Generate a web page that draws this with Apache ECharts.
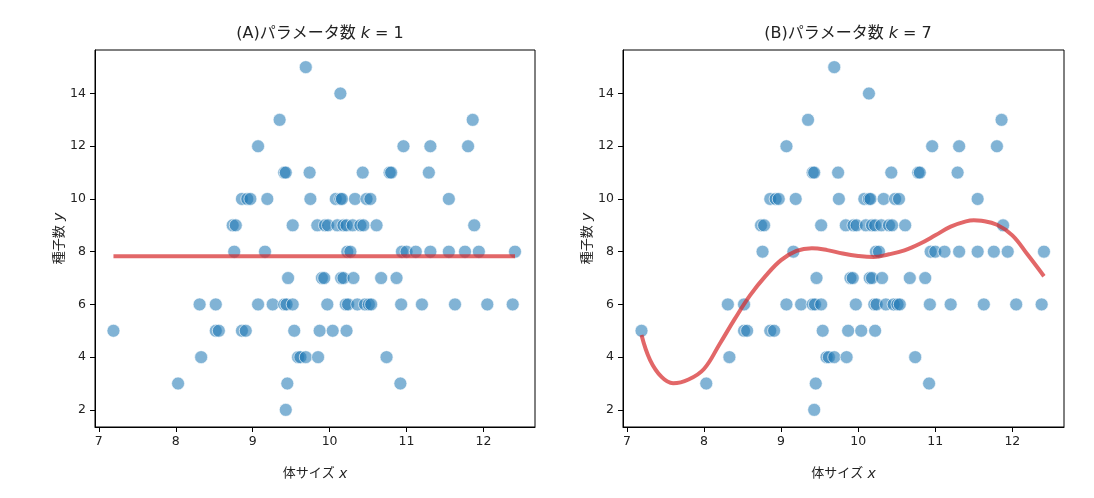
<!DOCTYPE html>
<html>
<head>
<meta charset="utf-8">
<title>パラメータ数</title>
<script src="https://cdn.jsdelivr.net/npm/echarts@6/dist/echarts.min.js"></script>
<style>
  html, body { margin: 0; padding: 0; background: #fff; }
  #main { width: 1094px; height: 498px; }
</style>
</head>
<body>
<div id="main"></div>
<script>
var bodySize = [
  9.43,
  8.03, 9.45, 10.92,
  8.33, 9.59, 9.62, 9.69, 9.85, 10.74,
  7.19, 8.52, 8.56, 8.86, 8.91, 9.54, 9.87, 10.04, 10.22,
  8.31, 8.52, 9.07, 9.26, 9.41, 9.44, 9.52, 9.97, 10.21, 10.24, 10.36, 10.46, 10.51, 10.54, 10.93, 11.20, 11.63, 12.05, 12.38,
  9.46, 9.90, 9.93, 10.15, 10.18, 10.31, 10.67, 10.87,
  8.76, 9.16, 10.23, 10.27, 10.94, 11.00, 11.12, 11.31, 11.55, 11.76, 11.94, 12.41,
  8.74, 8.78, 9.52, 9.84, 9.94, 9.98, 10.10, 10.18, 10.22, 10.30, 10.40, 10.44, 10.61, 11.88,
  8.86, 8.93, 8.97, 9.19, 9.75, 10.08, 10.14, 10.16, 10.33, 10.48, 10.53, 11.55,
  9.41, 9.43, 9.74, 10.43, 10.78, 10.80, 11.29,
  9.07, 10.96, 11.31, 11.80,
  9.35, 11.86,
  10.14,
  9.69
];
var seedCount = [
  2,
  3, 3, 3,
  4, 4, 4, 4, 4, 4,
  5, 5, 5, 5, 5, 5, 5, 5, 5,
  6, 6, 6, 6, 6, 6, 6, 6, 6, 6, 6, 6, 6, 6, 6, 6, 6, 6, 6,
  7, 7, 7, 7, 7, 7, 7, 7,
  8, 8, 8, 8, 8, 8, 8, 8, 8, 8, 8, 8,
  9, 9, 9, 9, 9, 9, 9, 9, 9, 9, 9, 9, 9, 9,
  10, 10, 10, 10, 10, 10, 10, 10, 10, 10, 10, 10,
  11, 11, 11, 11, 11, 11, 11,
  12, 12, 12, 12,
  13, 13,
  14,
  15
];

// (A) k=1 の予測 (平均)
var meanY = 7.83;

// (B) k=7 の予測曲線
var fitX = [7.19, 7.3, 7.45, 7.6, 7.8, 8.0, 8.2, 8.4, 8.6, 8.8, 9.0, 9.2, 9.4, 9.6, 9.8,
            10.0, 10.2, 10.4, 10.6, 10.8, 11.0, 11.2, 11.4, 11.5, 11.6, 11.8, 12.0, 12.2, 12.41];
var fitY = [4.84, 3.9, 3.25, 3.01, 3.15, 3.55, 4.48, 5.45, 6.35, 7.08, 7.68, 8.03, 8.13, 8.06, 7.93,
            7.84, 7.8, 7.9, 8.05, 8.3, 8.62, 8.95, 9.15, 9.19, 9.17, 9.02, 8.62, 7.88, 7.07];

var xTicks = [7, 8, 9, 10, 11, 12];
var yTicks = [2, 4, 6, 8, 10, 12, 14];

var pts = bodySize.map(function (x, i) { return [x, seedCount[i]]; });
var xMin = Math.min.apply(null, bodySize);
var xMax = Math.max.apply(null, bodySize);
var meanLine = [[xMin, meanY], [xMax, meanY]];
var fitLine = fitX.map(function (x, i) { return [x, fitY[i]]; });

var FONT = 'DejaVu Sans, Noto Sans CJK JP, sans-serif';
var chart = echarts.init(document.getElementById('main'), null, { renderer: 'canvas' });

function xAxisFor(idx) {
  return {
    gridIndex: idx, type: 'value', min: 6.95, max: 12.67,
    name: '{n|体サイズ }{i|x}', nameLocation: 'middle', nameGap: 40,
    nameTextStyle: {
      rich: {
        n: { fontFamily: FONT, fontSize: 13, color: '#222' },
        i: { fontFamily: FONT, fontSize: 14, fontStyle: 'italic', color: '#222' }
      }
    },
    axisLine: { show: true, onZero: false, lineStyle: { color: '#000', width: 1 } },
    axisTick: { show: true, length: 5, inside: false, customValues: xTicks, lineStyle: { color: '#000' } },
    axisLabel: { customValues: xTicks, fontFamily: FONT, fontSize: 12.5, color: '#222', margin: 8 },
    splitLine: { show: false }
  };
}
function yAxisFor(idx) {
  return {
    gridIndex: idx, type: 'value', min: 1.35, max: 15.65,
    name: '{n|種子数 }{i|y}', nameLocation: 'middle', nameGap: 21, nameRotate: 90,
    nameTextStyle: {
      rich: {
        n: { fontFamily: FONT, fontSize: 13, color: '#222' },
        i: { fontFamily: FONT, fontSize: 14, fontStyle: 'italic', color: '#222' }
      }
    },
    axisLine: { show: true, onZero: false, lineStyle: { color: '#000', width: 1 } },
    axisTick: { show: true, length: 5, inside: false, customValues: yTicks, lineStyle: { color: '#000' } },
    axisLabel: { customValues: yTicks, fontFamily: FONT, fontSize: 12.5, color: '#222', margin: 9 },
    splitLine: { show: false }
  };
}
function titleFor(label, k, center) {
  return {
    text: '{n|' + label + 'パラメータ数 }{i|k}{n| = ' + k + '}',
    left: center, top: 21, textAlign: 'center',
    textStyle: {
      fontWeight: 'normal',
      rich: {
        n: { fontFamily: FONT, fontSize: 16, fontWeight: 'normal', color: '#222' },
        i: { fontFamily: FONT, fontSize: 16, fontWeight: 'normal', fontStyle: 'italic', color: '#222' }
      }
    }
  };
}
var dotStyle = { color: 'rgba(31,119,180,0.7)', borderColor: '#fff', borderWidth: 0.8 };
var lineStyle = { color: '#d62728', width: 4, opacity: 0.7 };

chart.setOption({
  animation: false,
  title: [titleFor('(A)', 1, 315), titleFor('(B)', 7, 843)],
  grid: [
    { left: 95, top: 50, width: 440, height: 377, show: true, borderColor: '#000', borderWidth: 1 },
    { left: 623, top: 50, width: 441, height: 377, show: true, borderColor: '#000', borderWidth: 1 }
  ],
  xAxis: [xAxisFor(0), xAxisFor(1)],
  yAxis: [yAxisFor(0), yAxisFor(1)],
  series: [
    { type: 'scatter', xAxisIndex: 0, yAxisIndex: 0, data: pts, symbolSize: 13, itemStyle: dotStyle },
    { type: 'line', xAxisIndex: 0, yAxisIndex: 0, data: meanLine, showSymbol: false, lineStyle: lineStyle, z: 3 },
    { type: 'scatter', xAxisIndex: 1, yAxisIndex: 1, data: pts, symbolSize: 13, itemStyle: dotStyle },
    { type: 'line', xAxisIndex: 1, yAxisIndex: 1, data: fitLine, smooth: 0.4, showSymbol: false, lineStyle: lineStyle, z: 3 }
  ]
});
</script>
</body>
</html>
